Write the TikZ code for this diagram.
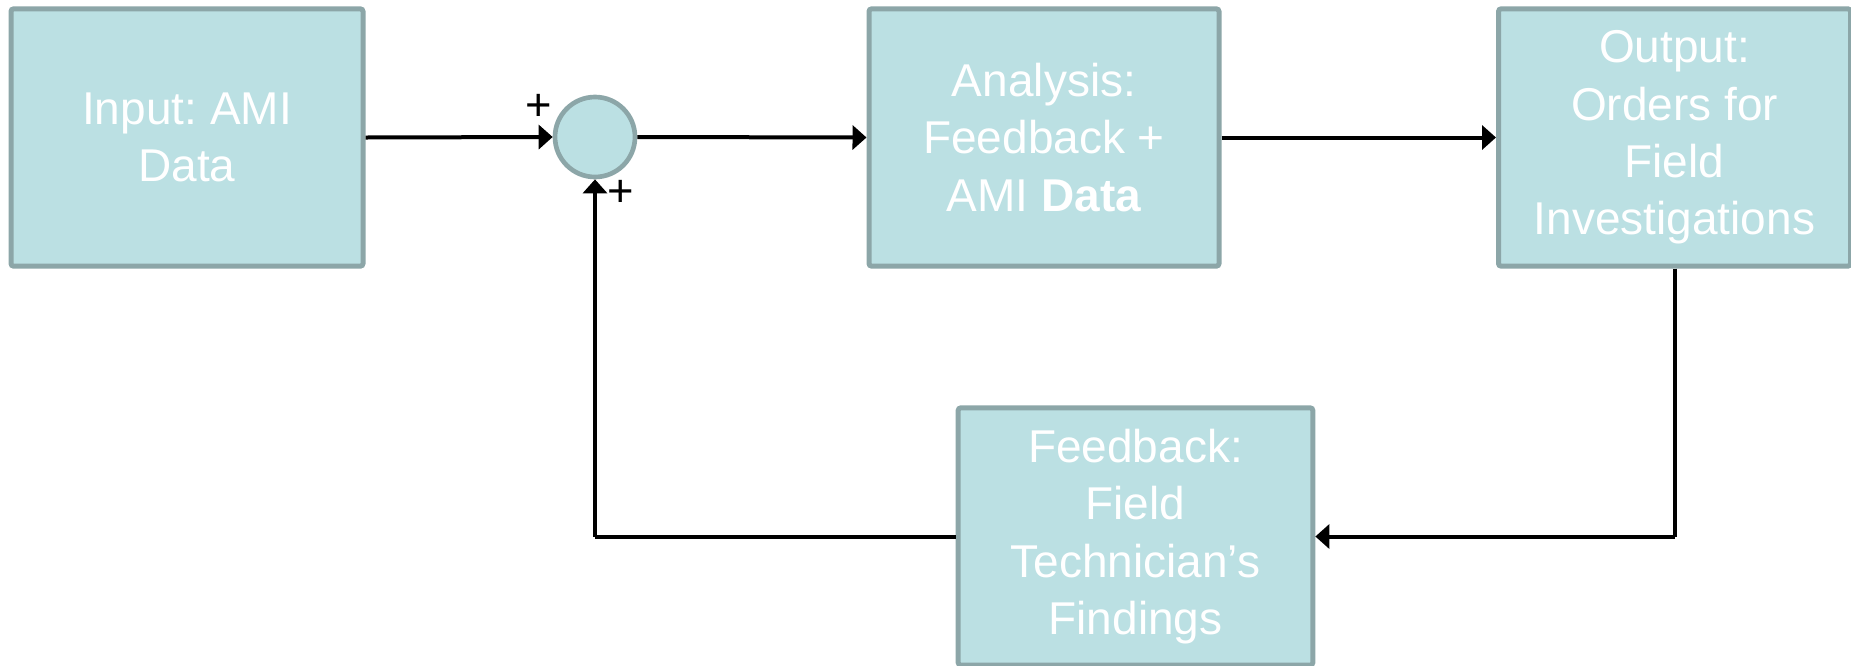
\documentclass[tikz,border=0pt]{standalone}
\usepackage{fontspec}
\setmainfont{Liberation Sans}
\usetikzlibrary{arrows.meta}
\definecolor{boxfill}{HTML}{BBE0E3}
\definecolor{boxline}{HTML}{8CA6A8}
\tikzset{
  blk/.style={draw=boxline, fill=boxfill, line width=3.75pt, rounded corners=2pt,
    minimum width=264pt, minimum height=193pt, inner sep=0pt, text=white,
    align=center, font={\fontsize{34.5pt}{43pt}\selectfont\frenchspacing}},
  sumnode/.style={circle, draw=boxline, fill=boxfill, line width=3.5pt, minimum size=60pt, inner sep=0pt},
  conn/.style={line width=3pt, -{Triangle[length=10.5pt,width=18pt]}},
  plain/.style={line width=3pt},
  sign/.style={font={\fontsize{34pt}{36pt}\selectfont}, inner sep=0pt}
}
\begin{document}
\begin{tikzpicture}[x=0.75pt,y=-0.75pt]
\useasboundingbox (0,0) rectangle (1851,665);
\node[blk] (in) at (187,137.5) {Input: AMI\\Data};
\node[sumnode] (sum) at (595,137) {};
\node[blk, minimum width=262.5pt] (ana) at (1044,137.5) {Analysis:\\Feedback +\\AMI \textbf{Data}};
\node[blk] (out) at (1674.5,137.5) {Output:\\Orders for\\Field\\Investigations};
\node[blk, minimum width=266pt] (fb) at (1135.5,536.5) {Feedback:\\Field\\Technician’s\\Findings};
\node[sign] (p1) at (539,107) {+};
\node[sign] (p2) at (621,193) {+};
\draw[conn] (in.east) -- (sum.west);
\draw[conn] (sum.east) -- (ana.west);
\draw[conn] (ana.east) -- (out.west);
\coordinate (rc) at (out.south |- fb.east);
\draw[plain] (out.south) -- (rc);
\draw[conn] (rc) -- (fb.east);
\coordinate (lc) at (sum.south |- fb.west);
\draw[plain] (fb.west) -- (lc);
\draw[conn] (lc) -- (sum.south);
\end{tikzpicture}
\end{document}
